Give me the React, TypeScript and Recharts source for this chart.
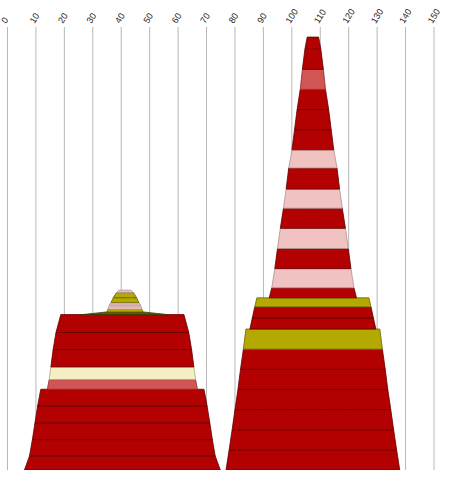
import { ComposedChart, Area, XAxis, YAxis, CartesianGrid } from "recharts"

const xTicks = [0, 10, 20, 30, 40, 50, 60, 70, 80, 90, 100, 110, 120, 130, 140, 150]

// right column (elevations bottom -> top, widths in x units)
const rightMid = 107.4
const rightBounds = [0, 1, 2, 3, 4, 5, 6, 7, 7.55, 8.1, 8.55, 9.05, 10, 11, 12, 13, 13.95, 15, 15.9, 16.9, 17.9, 18.9, 19.9, 20.9, 21.5]
const rightWidthBase = [61.1, 58.9, 56.8, 54.8, 52.7, 50.9, 48.9, 44.3, 42.6, 40.9, 30.7, 28.9, 26.8, 24.9, 22.9, 20.7, 18.8, 17.0, 14.7, 12.9, 11.1, 8.9, 7.4, 5.6]
const rightWidthTop = [58.9, 56.8, 54.8, 52.7, 50.9, 48.9, 47.1, 42.6, 40.9, 39.4, 28.9, 26.8, 24.9, 22.9, 20.7, 18.8, 17.0, 14.7, 12.9, 11.1, 8.9, 7.4, 5.6, 4.0]
const rightRock = ["red", "red", "red", "red", "red", "red", "olive", "red", "red", "olive", "red", "pink", "red", "pink", "red", "pink", "red", "pink", "red", "red", "red", "rose", "red", "red"]

// left column, main body
const leftMid = 40.4
const leftBounds = [0, 0.7, 1.51, 2.34, 3.18, 4.01, 4.49, 5.12, 5.98, 6.83, 7.72]
const leftWidthBase = [68.9, 65.3, 63.3, 61.5, 59.6, 52.8, 51.5, 50.3, 48.7, 46.7]
const leftWidthTop = [65.3, 63.3, 61.5, 59.6, 57.4, 51.5, 50.3, 48.7, 46.7, 43.3]
const leftRock = ["red", "red", "red", "red", "red", "rose", "cream", "red", "red", "red"]

// left column, small cap on top
const capMid = 41.3
const capBounds = [7.72, 7.85, 7.98, 8.11, 8.19, 8.31, 8.56, 8.81, 8.93]
const capWidthBase = [29.9, 12.7, 12.0, 11.4, 11.0, 9.85, 8.2, 6.0]
const capWidthTop = [12.7, 12.0, 11.4, 11.0, 9.85, 8.2, 6.0, 4.1]
const capRock = ["dark", "olive", "pink", "pale", "pink", "olive", "olive", "pink"]

const FILL: Record<string, string> = {
    red: "#b30000",
    rose: "#d15555",
    pink: "#f0c2c2",
    pale: "#f8e0e0",
    cream: "#f3efc4",
    olive: "#b3a900",
    dark: "#5e5c00",
}
const EDGE: Record<string, string> = {
    red: "#620000",
    rose: "#8a3030",
    pink: "#b09090",
    pale: "#c0a8a8",
    cream: "#aaa67c",
    olive: "#6a6400",
    dark: "#3e3c00",
}

function buildLayers(mid: number, bounds: number[], wBase: number[], wTop: number[], rock: string[]) {
    return rock.map((r, i) => {
        const b = bounds[i]
        const t = bounds[i + 1]
        const l0 = mid - wBase[i] / 2
        const r0 = mid + wBase[i] / 2
        const l1 = mid - wTop[i] / 2
        const r1 = mid + wTop[i] / 2
        // extra rows so the stroke runs round all four sides
        return {
            rock: r,
            data: [
                { elev: b, span: [r0, r0] },
                { elev: b, span: [l0, r0] },
                { elev: t, span: [l1, r1] },
                { elev: t, span: [l1, l1] },
            ],
        }
    })
}

const layers = [
    ...buildLayers(leftMid, leftBounds, leftWidthBase, leftWidthTop, leftRock),
    ...buildLayers(capMid, capBounds, capWidthBase, capWidthTop, capRock),
    ...buildLayers(rightMid, rightBounds, rightWidthBase, rightWidthTop, rightRock),
]

const TopTick = ({ x, payload }: any) => {
    const tx = x - 1.5
    const ty = 24
    return (
        <text
            x={tx}
            y={ty}
            transform={`rotate(-58 ${tx} ${ty})`}
            fontSize={9}
            fontFamily="'Liberation Sans', Arial, sans-serif"
            fill="#222"
        >
            {payload.value}
        </text>
    )
}

export default function App() {
    return (
        <div style={{ position: "absolute", left: 0, top: 0, width: 452, height: 477 }}>
            <ComposedChart
                layout="vertical"
                width={452}
                height={477}
                margin={{ top: 0, right: 18, bottom: 7, left: 7.5 }}
            >
                <CartesianGrid horizontal={false} stroke="#b8b8b8" />
                <XAxis
                    type="number"
                    orientation="top"
                    domain={[0, 150]}
                    ticks={xTicks}
                    interval={0}
                    axisLine={false}
                    tickLine={false}
                    height={27}
                    allowDataOverflow
                    tick={TopTick}
                />
                <YAxis type="number" dataKey="elev" domain={[0, 22]} allowDataOverflow reversed hide />
                {layers.map((l, i) => (
                    <Area
                        key={i}
                        data={l.data}
                        dataKey="span"
                        type="linear"
                        fill={FILL[l.rock]}
                        fillOpacity={1}
                        stroke={EDGE[l.rock]}
                        strokeWidth={0.8}
                        dot={false}
                        activeDot={false}
                        isAnimationActive={false}
                    />
                ))}
            </ComposedChart>
        </div>
    )
}
